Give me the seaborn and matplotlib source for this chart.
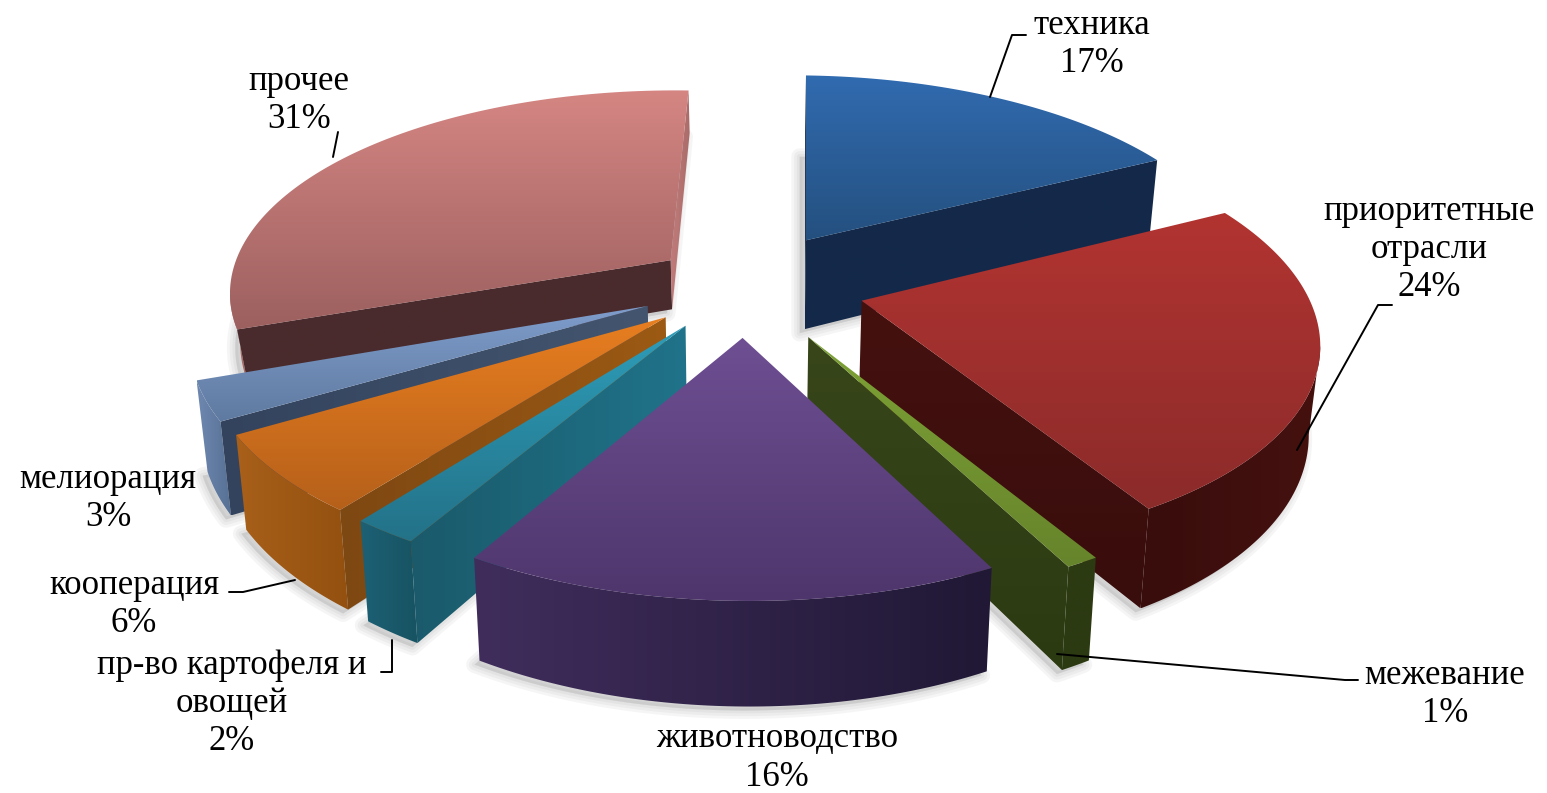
# 3D style exploded pie, drawn on a pixel-sized axes
import numpy as np
import matplotlib
matplotlib.use("Agg")
import matplotlib.pyplot as plt
from matplotlib.patches import Polygon
import seaborn as sns

sns.set_theme(style="white")
plt.rcParams['font.family'] = ['Liberation Serif', 'DejaVu Serif']

# data
categories = ["техника", "приоритетные\nотрасли", "межевание", "животноводство",
              "пр-во картофеля и\nовощей", "кооперация", "мелиорация", "прочее"]
values = [17, 24, 1, 16, 2, 6, 3, 31]

# slice styling
explode = [0.27, 0.27, 0.28, 0.25, 0.235, 0.235, 0.24, 0.21]
depth = [92, 85, 85, 85, 85, 85, 85, 50]
top_colors = [("#316bb0", "#24507f"), ("#b23431", "#8b2b2a"), ("#7ea236", "#66842b"),
              ("#6e4f93", "#4e366c"), ("#2e9db9", "#237288"), ("#e87e20", "#b5601a"),
              ("#7f9dcc", "#5f7aa0"), ("#d58683", "#9c605f")]
side_colors = [("#14294a", "#14294a"), ("#45110f", "#380d0c"), ("#38461a", "#2c3a12"),
               ("#402d5c", "#201835"), ("#1a5a6b", "#20738a"), ("#7e4812", "#9c5a14"),
               ("#33435e", "#44566f"), ("#4a2b2d", "#4a2b2d")]
arc_colors = [("#14294a", "#14294a"), ("#380d0c", "#45110f"), ("#2c3a12", "#2c3a12"),
              ("#402d5c", "#201835"), ("#1d6175", "#175362"), ("#a8601a", "#93500f"),
              ("#6f88b0", "#566f94"), ("#b06e6c", "#a86a68")]
last_face = {7: ("#c07c7a", "#a86a68")}
draw_order = [7, 0, 1, 6, 5, 4, 2, 3]

# label positions and leader lines
label_pos = [(1092, 45), (1429, 250), (1445, 694), (777, 758),
             (232, 704), (134, 604), (108, 498), (299, 101)]
leaders = [[(990, 97), (1012, 35), (1026, 35)],
           [(1297, 450), (1378, 305), (1392, 305)],
           [(1057, 654), (1345, 680), (1358, 680)],
           [(392, 640), (392, 672), (381, 672)],
           [(295, 580), (243, 592), (229, 592)],
           [(333, 157), (338, 132)]]

# view
x0, y0 = 745, 285
fx, fy, persp, shear = 443, 203.5, 0.156, -6
turn = 2.0


def project(x, y, drop=0.0):
    w = 1 + persp * y
    sx = (fx * x + shear * y) / w
    sy = -fy * y / w
    shrink = 1 - 0.02 * (drop > 0)
    return x0 + sx * shrink, y0 + sy + drop / w


def gradient(ax, pts, c1, c2, z, vertical=True):
    pts = np.asarray(pts)
    cmap = sns.blend_palette([c1, c2], as_cmap=True)
    ramp = np.linspace(0, 1, 256)
    ramp = ramp[:, None] if vertical else ramp[None, :]
    ext = (pts[:, 0].min(), pts[:, 0].max(), pts[:, 1].max(), pts[:, 1].min())
    im = ax.imshow(ramp, cmap=cmap, extent=ext, origin="upper", aspect="auto",
                   zorder=z, interpolation="bilinear")
    patch = Polygon(pts, closed=True, transform=ax.transData, fc="none", ec="none")
    ax.add_patch(patch)
    im.set_clip_path(patch)


fig = plt.figure(figsize=(15.47, 7.93), dpi=100)
ax = fig.add_axes([0, 0, 1, 1])

edges = np.cumsum([0] + values) / sum(values) * 360 + turn
z = 1
for i in draw_order:
    a1, a2 = edges[i], edges[i + 1]
    mid = np.radians((a1 + a2) / 2)
    ox, oy = explode[i] * np.sin(mid), explode[i] * np.cos(mid)
    th = np.radians(np.linspace(a1, a2, 90))
    ax_x, ax_y = ox + np.sin(th), oy + np.cos(th)

    tx, ty = project(ax_x, ax_y)
    bx, by = project(ax_x, ax_y, depth[i])
    tipx, tipy = project(ox, oy)
    btipx, btipy = project(ox, oy, depth[i])

    # soft shadow under the slice
    floor = np.column_stack([np.r_[btipx, bx] - 5, np.r_[btipy, by] + 4])
    for lw in (12, 8, 4):
        ax.add_patch(Polygon(floor, closed=True, fc="#777777", ec="#777777", lw=lw,
                             alpha=0.07, zorder=z, joinstyle="round"))
    z += 1

    # outer wall, only where it faces the viewer
    keep = np.r_[np.diff(tx) < 0, False]
    keep[1:] |= np.diff(tx) < 0
    if keep.sum() > 1:
        wall = np.r_[np.column_stack([tx[keep], ty[keep]]),
                     np.column_stack([bx[keep], by[keep]])[::-1]]
        gradient(ax, wall, *arc_colors[i], z, vertical=False)
        z += 1

    # the two cut faces
    if tx[0] < tipx:
        face = [(tipx, tipy), (tx[0], ty[0]), (bx[0], by[0]), (btipx, btipy)]
        gradient(ax, face, *side_colors[i], z, vertical=False)
        z += 1
    if tipx < tx[-1]:
        face = [(tx[-1], ty[-1]), (tipx, tipy), (btipx, btipy), (bx[-1], by[-1])]
        shade = last_face.get(i, side_colors[i])
        gradient(ax, face, *shade, z, vertical=i not in last_face)
        z += 1

    top = np.r_[[(tipx, tipy)], np.column_stack([tx, ty])]
    gradient(ax, top, *top_colors[i], z)
    z += 1

for name, val, (lx, ly) in zip(categories, values, label_pos):
    ax.text(lx, ly, f"{name}\n{val}%", ha="center", va="center", fontsize=25,
            color="black", linespacing=1.2, zorder=z + 2)

for line in leaders:
    xs, ys = zip(*line)
    ax.plot(xs, ys, color="black", lw=1.4, zorder=z + 1)

ax.set_xlim(0, 1547)
ax.set_ylim(793, 0)
ax.axis("off")
fig.savefig("out.png", dpi=100, facecolor="white")
